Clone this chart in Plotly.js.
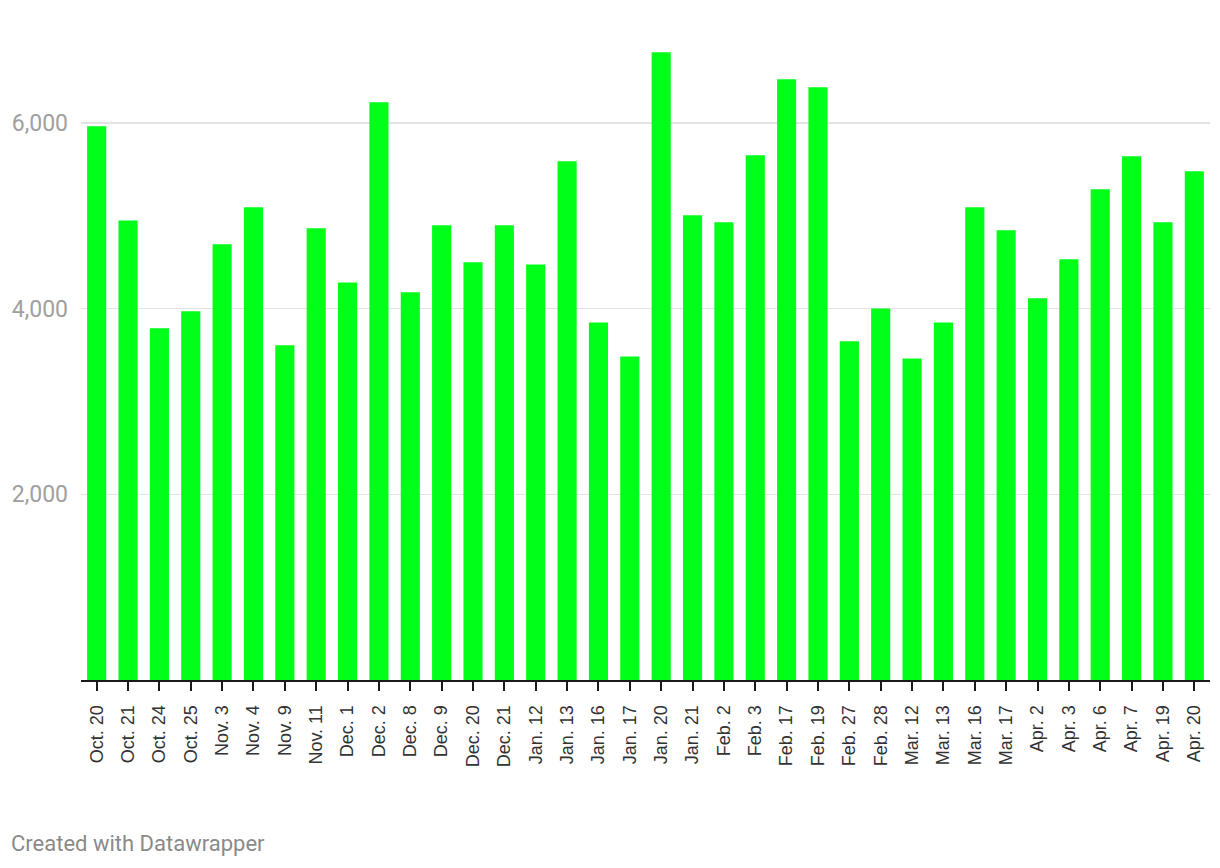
<!DOCTYPE html>
<html>
<head>
<meta charset="utf-8">
<script src="https://cdn.plot.ly/plotly-3.0.1.min.js"></script>
<style>
  html, body { margin: 0; padding: 0; background: #ffffff; }
  #chart { width: 1220px; height: 868px; }
</style>
</head>
<body>
<div id="chart"></div>
<script>
const dates = ["Oct. 20","Oct. 21","Oct. 24","Oct. 25","Nov. 3","Nov. 4","Nov. 9","Nov. 11",
  "Dec. 1","Dec. 2","Dec. 8","Dec. 9","Dec. 20","Dec. 21","Jan. 12","Jan. 13","Jan. 16","Jan. 17",
  "Jan. 20","Jan. 21","Feb. 2","Feb. 3","Feb. 17","Feb. 19","Feb. 27","Feb. 28","Mar. 12","Mar. 13",
  "Mar. 16","Mar. 17","Apr. 2","Apr. 3","Apr. 6","Apr. 7","Apr. 19","Apr. 20"];
const values = [5964,4951,3788,3971,4693,5092,3605,4865,
  4283,6223,4176,4898,4499,4898,4477,5587,3852,3486,
  6762,5005,4930,5652,6471,6385,3648,4003,3464,3852,
  5092,4844,4111,4531,5286,5641,4930,5479];
const yTickVals = [2000, 4000, 6000];
const yTickText = ["2,000", "4,000", "6,000"];
const footer = "Created with Datawrapper";

const trace = {
  type: 'bar',
  x: dates,
  y: values,
  marker: { color: '#00ff19', line: { width: 0 } },
  hoverinfo: 'x+y'
};

const layout = {
  width: 1220,
  height: 868,
  paper_bgcolor: '#ffffff',
  plot_bgcolor: '#ffffff',
  margin: { l: 81, r: 10, t: 40, b: 188 },
  bargap: 0.39,
  showlegend: false,
  xaxis: {
    type: 'category',
    range: [-0.5, dates.length - 0.5],
    showline: true,
    linecolor: '#1a1a1a',
    linewidth: 2,
    ticks: 'outside',
    ticklen: 9,
    tickwidth: 2,
    tickcolor: '#1a1a1a',
    tickangle: -90,
    ticklabelstandoff: 7,
    tickfont: { family: 'Liberation Sans, Arial, sans-serif', size: 18, color: '#333333' },
    showgrid: false,
    zeroline: false,
    fixedrange: true
  },
  yaxis: {
    range: [0, 6894],
    tickvals: yTickVals,
    ticktext: yTickText,
    showgrid: true,
    gridcolor: '#e3e3e3',
    gridwidth: 1.5,
    zeroline: false,
    showline: false,
    ticks: '',
    ticklabelstandoff: 12,
    tickfont: { family: 'Roboto, sans-serif', size: 23, color: '#a0a0a0' },
    fixedrange: true
  },
  annotations: [{
    text: footer,
    xref: 'paper', yref: 'paper',
    x: -72 / 1129, y: -(843 - 680) / 640,
    xanchor: 'left', yanchor: 'middle',
    showarrow: false,
    font: { family: 'Roboto, sans-serif', size: 22, color: '#8a8a8a' }
  }]
};

Plotly.newPlot('chart', [trace], layout, { displayModeBar: false, staticPlot: true });
</script>
</body>
</html>
